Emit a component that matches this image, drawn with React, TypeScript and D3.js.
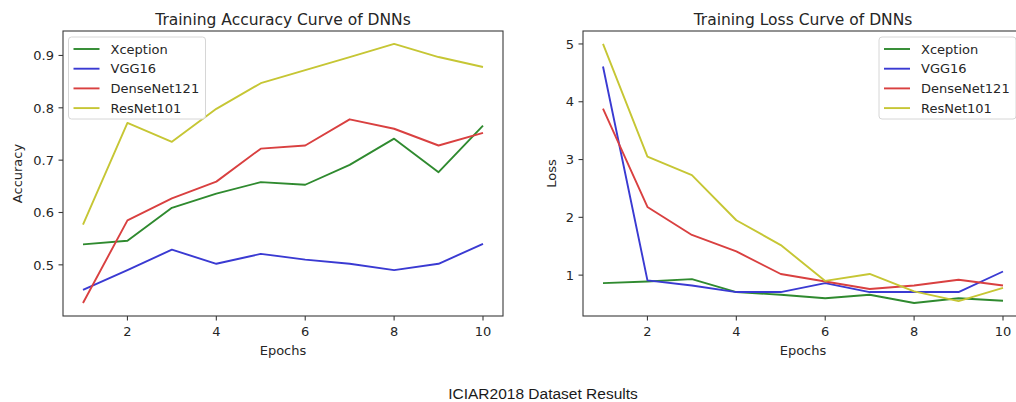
import React from "react";
import * as d3 from "d3";

const epochs = [1, 2, 3, 4, 5, 6, 7, 8, 9, 10];
const seriesNames = ["Xception", "VGG16", "DenseNet121", "ResNet101"];
const seriesColors = ["#2f8a2f", "#3a3ad2", "#d94040", "#c6c634"];

const accXception = [0.539, 0.546, 0.609, 0.636, 0.658, 0.653, 0.691, 0.741, 0.677, 0.766];
const accVGG16 = [0.452, 0.49, 0.529, 0.502, 0.521, 0.51, 0.502, 0.49, 0.502, 0.54];
const accDenseNet121 = [0.427, 0.585, 0.627, 0.659, 0.722, 0.728, 0.778, 0.76, 0.728, 0.752];
const accResNet101 = [0.577, 0.771, 0.735, 0.798, 0.847, 0.872, 0.897, 0.922, 0.897, 0.878];

const lossXception = [0.862, 0.89, 0.93, 0.707, 0.66, 0.6, 0.66, 0.517, 0.6, 0.557];
const lossVGG16 = [4.61, 0.91, 0.82, 0.707, 0.707, 0.862, 0.707, 0.707, 0.707, 1.063];
const lossDenseNet121 = [3.88, 2.18, 1.695, 1.41, 1.02, 0.89, 0.76, 0.82, 0.92, 0.82];
const lossResNet101 = [5.0, 3.05, 2.73, 1.95, 1.52, 0.9, 1.02, 0.72, 0.55, 0.78];

const xTicks = [2, 4, 6, 8, 10];
const accTicks = [0.5, 0.6, 0.7, 0.8, 0.9];
const lossTicks = [1, 2, 3, 4, 5];

const FONT = "'DejaVu Sans', sans-serif";
const TEXT = "#262626";
const SPINE = "#3a3a3a";

type PanelProps = {
  left: number;
  right: number;
  top: number;
  bottom: number;
  title: string;
  ylabel: string;
  data: number[][];
  yTicks: number[];
  yFmt: (v: number) => string;
  legendX: number;
  ylabelX: number;
};

function Panel(p: PanelProps) {
  const all = p.data.flat();
  const lo = d3.min(all) as number;
  const hi = d3.max(all) as number;
  const m = (hi - lo) * 0.05;
  const x = d3.scaleLinear().domain([0.55, 10.45]).range([p.left, p.right]);
  const y = d3.scaleLinear().domain([lo - m, hi + m]).range([p.bottom, p.top]);
  const line = d3
    .line<number>()
    .x((_, i) => x(epochs[i]))
    .y((d) => y(d));
  const clipId = "clip-" + p.title.replace(/\s/g, "");
  const lgTop = 37;
  const rowH = 19.7;
  return (
    <g>
      <defs>
        <clipPath id={clipId}>
          <rect x={p.left} y={p.top} width={p.right - p.left} height={p.bottom - p.top} />
        </clipPath>
      </defs>
      <text
        x={(p.left + p.right) / 2}
        y={p.top - 6.5}
        textAnchor="middle"
        fontFamily={FONT}
        fontSize={15.5}
        fill={TEXT}
      >
        {p.title}
      </text>
      <g clipPath={`url(#${clipId})`}>
        {p.data.map((s, i) => (
          <path
            key={i}
            d={line(s) as string}
            fill="none"
            stroke={seriesColors[i]}
            strokeWidth={1.9}
            strokeLinejoin="round"
          />
        ))}
      </g>
      <rect
        x={p.left}
        y={p.top}
        width={p.right - p.left}
        height={p.bottom - p.top}
        fill="none"
        stroke={SPINE}
        strokeWidth={1.1}
      />
      {xTicks.map((t) => (
        <g key={t}>
          <line x1={x(t)} x2={x(t)} y1={p.bottom} y2={p.bottom + 4.5} stroke={SPINE} strokeWidth={1.1} />
          <text
            x={x(t)}
            y={p.bottom + 19.5}
            textAnchor="middle"
            fontFamily={FONT}
            fontSize={13}
            fill={TEXT}
          >
            {t}
          </text>
        </g>
      ))}
      {p.yTicks.map((t) => (
        <g key={t}>
          <line x1={p.left - 4.5} x2={p.left} y1={y(t)} y2={y(t)} stroke={SPINE} strokeWidth={1.1} />
          <text
            x={p.left - 9}
            y={y(t) + 4.7}
            textAnchor="end"
            fontFamily={FONT}
            fontSize={13}
            fill={TEXT}
          >
            {p.yFmt(t)}
          </text>
        </g>
      ))}
      <text
        x={(p.left + p.right) / 2}
        y={p.bottom + 39}
        textAnchor="middle"
        fontFamily={FONT}
        fontSize={13}
        fill={TEXT}
      >
        Epochs
      </text>
      <text
        transform={`translate(${p.ylabelX},${(p.top + p.bottom) / 2}) rotate(-90)`}
        textAnchor="middle"
        fontFamily={FONT}
        fontSize={13}
        fill={TEXT}
      >
        {p.ylabel}
      </text>
      <g>
        <rect
          x={p.legendX}
          y={lgTop}
          width={137}
          height={82}
          rx={3}
          fill="#ffffff"
          fillOpacity={0.85}
          stroke="#d6d6d6"
          strokeWidth={1}
        />
        {seriesNames.map((n, i) => (
          <g key={n}>
            <line
              x1={p.legendX + 5}
              x2={p.legendX + 31}
              y1={lgTop + 12 + i * rowH}
              y2={lgTop + 12 + i * rowH}
              stroke={seriesColors[i]}
              strokeWidth={1.9}
            />
            <text
              x={p.legendX + 42}
              y={lgTop + 12 + i * rowH + 4.7}
              fontFamily={FONT}
              fontSize={13}
              fill={TEXT}
            >
              {n}
            </text>
          </g>
        ))}
      </g>
    </g>
  );
}

export default function App() {
  const accData = [accXception, accVGG16, accDenseNet121, accResNet101];
  const lossData = [lossXception, lossVGG16, lossDenseNet121, lossResNet101];
  return (
    <div style={{ position: "fixed", left: 0, top: 0 }}>
      <svg width={1016} height={402} style={{ display: "block", background: "#fff" }}>
        <Panel
          left={63}
          right={503}
          top={31}
          bottom={316}
          title="Training Accuracy Curve of DNNs"
          ylabel="Accuracy"
          data={accData}
          yTicks={accTicks}
          yFmt={(v) => d3.format(".1f")(v)}
          legendX={68.5}
          ylabelX={22}
        />
        <Panel
          left={583}
          right={1023}
          top={31}
          bottom={316}
          title="Training Loss Curve of DNNs"
          ylabel="Loss"
          data={lossData}
          yTicks={lossTicks}
          yFmt={(v) => String(v)}
          legendX={879}
          ylabelX={556}
        />
        <text
          x={543}
          y={399}
          textAnchor="middle"
          fontFamily="'Liberation Sans', Arial, sans-serif"
          fontSize={15.5}
          fill="#1a1a1a"
        >
          ICIAR2018 Dataset Results
        </text>
      </svg>
    </div>
  );
}
